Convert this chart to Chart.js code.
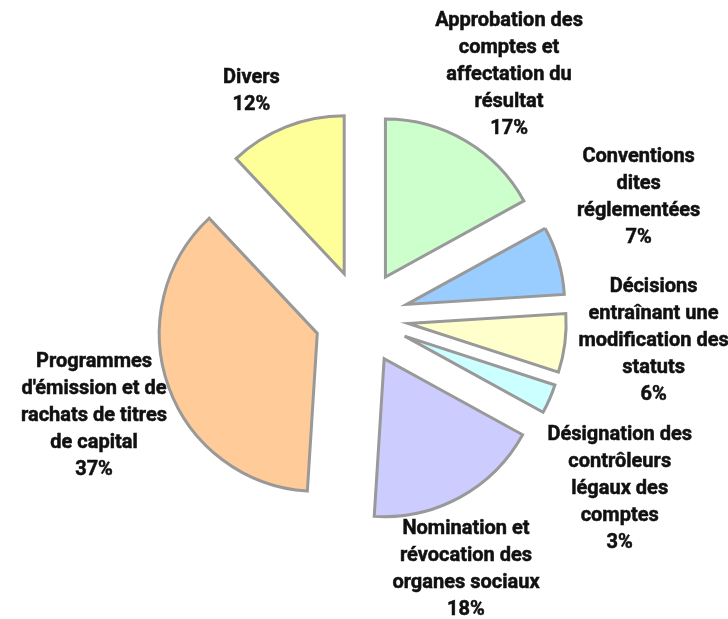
<!DOCTYPE html>
<html>
<head>
<meta charset="utf-8">
<script src="https://cdn.jsdelivr.net/npm/chart.js@4/dist/chart.umd.min.js"></script>
<style>
  html, body { margin: 0; padding: 0; background: #fff; }
  #wrap { width: 728px; height: 619px; position: relative; }
</style>
</head>
<body>
<div id="wrap"><canvas id="graficaResolutions"></canvas></div>
<script>
// Données du graphique
const categories = [
    ["Approbation des", "comptes et", "affectation du", "résultat"],
    ["Conventions", "dites", "réglementées"],
    ["Décisions", "entraînant une", "modification des", "statuts"],
    ["Désignation des", "contrôleurs", "légaux des", "comptes"],
    ["Nomination et", "révocation des", "organes sociaux"],
    ["Programmes", "d'émission et de", "rachats de titres", "de capital"],
    ["Divers"]
];
const valeurs = [17, 7, 6, 3, 18, 37, 12];
const couleurs = ["#CCFFCC", "#99CCFF", "#FFFFCC", "#CCFFFF", "#CCCCFF", "#FFCC99", "#FFFF99"];

// Position des étiquettes : [angle en degrés depuis midi, distance au centre]
const placementEtiquettes = [[31.3, 284], [66.6, 302], [94.6, 293], [123.6, 310], [157.5, 273], [249.8, 285], [334, 251]];

const ECART = 47; // éclatement des parts

// Parts éclatées : on translate chaque arc le long de son angle médian
const eclatement = {
    id: 'eclatement',
    beforeDatasetsDraw(chart) {
        const ctx = chart.ctx;
        const meta = chart.getDatasetMeta(0);
        meta.data.forEach(arc => {
            const mid = (arc.startAngle + arc.endAngle) / 2;
            ctx.save();
            ctx.translate(Math.cos(mid) * ECART, Math.sin(mid) * ECART);
            arc.draw(ctx);
            ctx.restore();
        });
        return false;
    }
};

// Étiquettes texte autour du camembert
const etiquettes = {
    id: 'etiquettes',
    afterDraw(chart) {
        const ctx = chart.ctx;
        const arc0 = chart.getDatasetMeta(0).data[0];
        const cx = arc0.x, cy = arc0.y;
        const lh = 27;
        ctx.save();
        ctx.font = 'bold 20px Roboto';
        ctx.fillStyle = '#111';
        ctx.strokeStyle = '#111';
        ctx.lineWidth = 0.5;
        ctx.textAlign = 'center';
        ctx.textBaseline = 'middle';
        categories.forEach((lignes, i) => {
            const texte = lignes.concat([valeurs[i] + '%']);
            const [ang, dist] = placementEtiquettes[i];
            const a = ang * Math.PI / 180;
            const x = cx + Math.sin(a) * dist;
            const y = cy - Math.cos(a) * dist;
            const y0 = y - (texte.length - 1) * lh / 2;
            texte.forEach((t, k) => {
                ctx.fillText(t, x, y0 + k * lh);
                ctx.strokeText(t, x, y0 + k * lh);
            });
        });
        ctx.restore();
    }
};

document.addEventListener("DOMContentLoaded", function() {
    const ctx = document.getElementById("graficaResolutions").getContext("2d");
    new Chart(ctx, {
        type: "pie",
        data: {
            labels: categories.map(l => l.join(' ')),
            datasets: [{
                data: valeurs,
                backgroundColor: couleurs,
                borderColor: "#999999",
                borderWidth: 3,
                borderJoinStyle: "miter"
            }]
        },
        options: {
            responsive: true,
            maintainAspectRatio: false,
            animation: false,
            events: [],
            radius: 158,
            layout: { padding: { left: 0, right: 5, top: 16, bottom: 0 } },
            plugins: {
                legend: { display: false },
                tooltip: { enabled: false }
            }
        },
        plugins: [eclatement, etiquettes]
    });
});
</script>
</body>
</html>
